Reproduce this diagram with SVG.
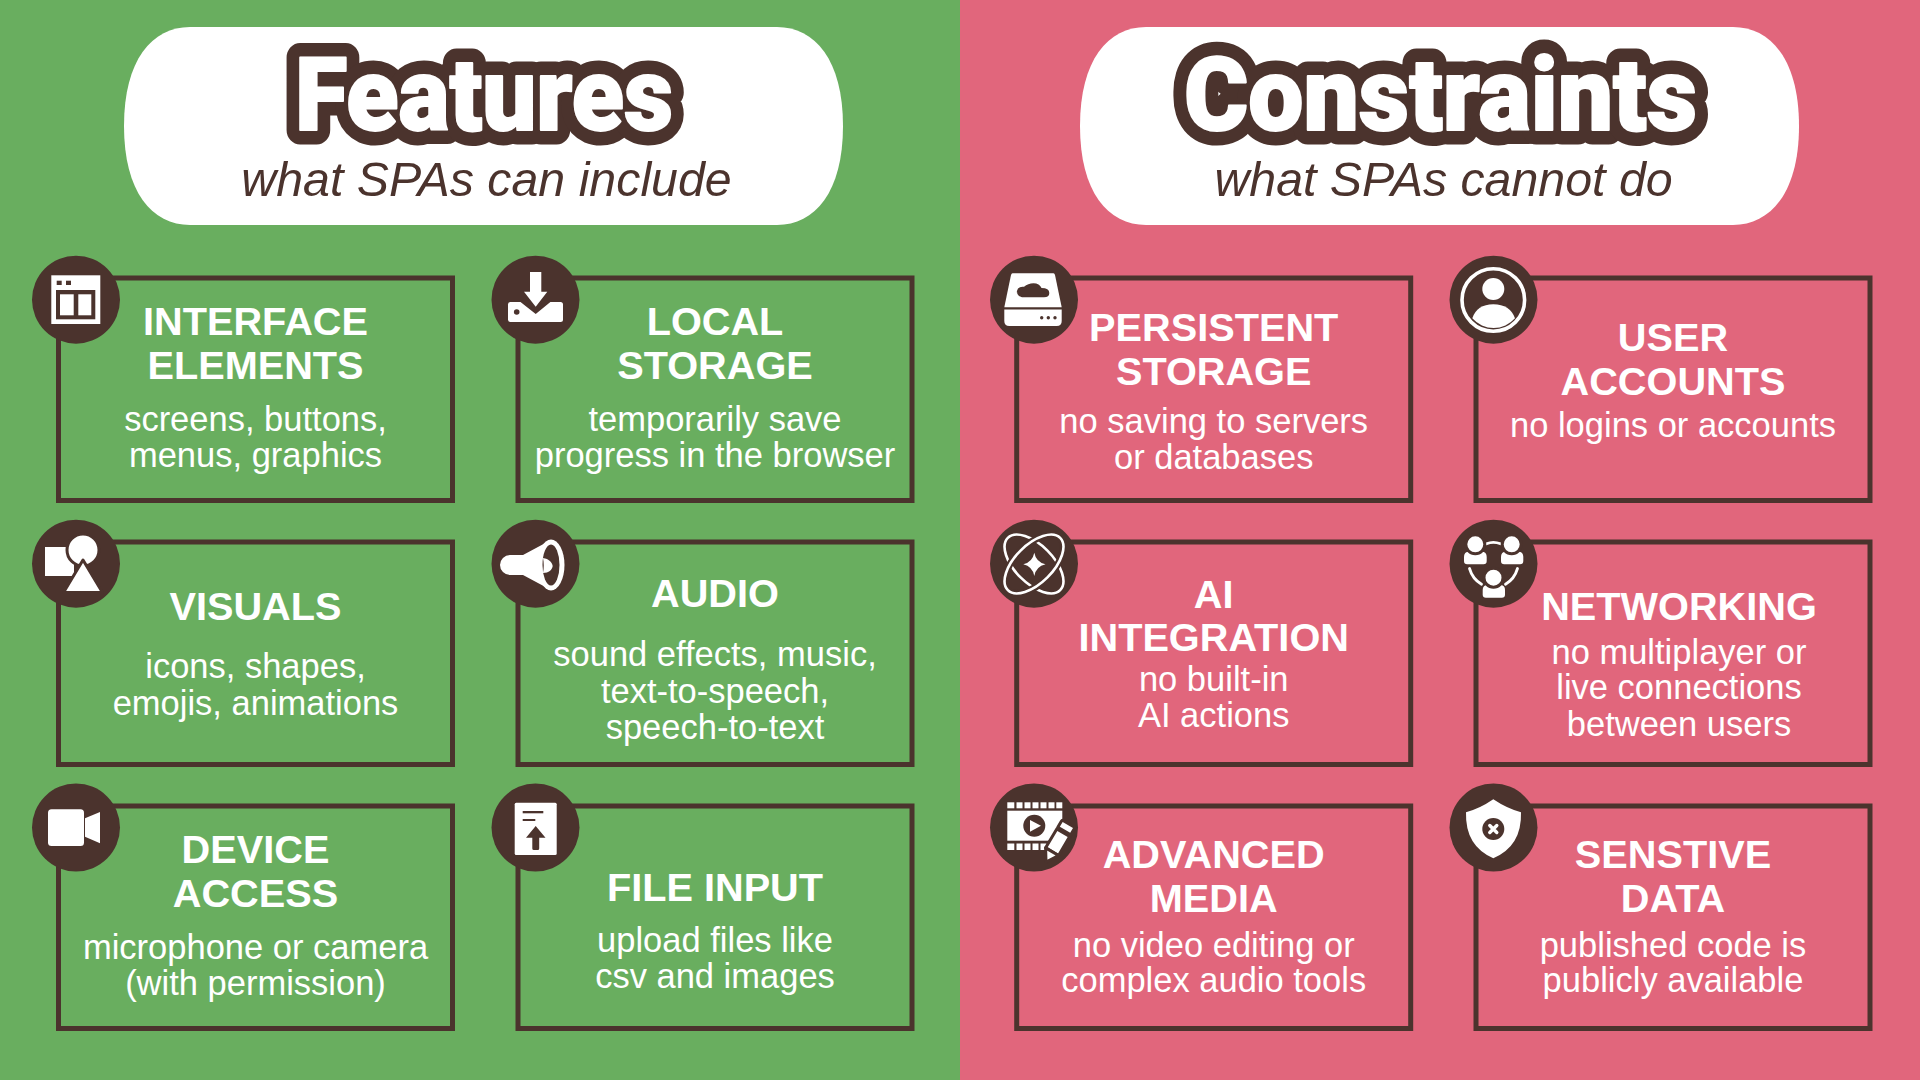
<svg xmlns="http://www.w3.org/2000/svg" width="1920" height="1080" viewBox="0 0 1920 1080">
<style>
.box{fill:none;stroke:#4b332d;stroke-width:5}
.disc{fill:#4b332d}
.w{fill:#fff}
.d{fill:#4b332d}
.wd{fill:#fff;stroke:#4b332d;stroke-width:3;stroke-linejoin:round}
.ws{fill:none;stroke:#fff;stroke-width:2.8;stroke-linecap:round}
text{font-family:"Liberation Sans",Arial,sans-serif;text-anchor:middle}
.t{font-size:39.7px;font-weight:700;fill:#fff}
.b{font-size:34.5px;fill:#fff}
.sub{font-size:48.3px;font-style:italic;fill:#4b332d}
.hb{font-family:Roboto,"Liberation Sans",sans-serif;font-weight:900;font-size:102px;text-anchor:start;fill:#4b332d;stroke:#4b332d;stroke-width:29px;stroke-linejoin:round}
.hf{font-family:Roboto,"Liberation Sans",sans-serif;font-weight:900;font-size:102px;text-anchor:start;fill:#fff;stroke:#fff;stroke-width:2px;stroke-linejoin:round}
</style>
<rect x="0" y="0" width="960" height="1080" fill="#69ae5f"/>
<rect x="960" y="0" width="960" height="1080" fill="#e1667c"/>

<g id="header-features">
<path class="w" d="M190 27H777C815 27 843 60 843 126C843 192 815 225 777 225H190C152 225 124 192 124 126C124 60 152 27 190 27Z"/>
<text class="hb" x="295" y="130" textLength="378" lengthAdjust="spacingAndGlyphs">Features</text>
<text class="hf" x="295" y="130" textLength="378" lengthAdjust="spacingAndGlyphs">Features</text>
<text class="sub" x="486.500" y="196">what SPAs can include</text>
</g>
<g id="header-constraints">
<path class="w" d="M1146 27H1733C1771 27 1799 60 1799 126C1799 192 1771 225 1733 225H1146C1108 225 1080 192 1080 126C1080 60 1108 27 1146 27Z"/>
<text class="hb" x="1184" y="130" textLength="513" lengthAdjust="spacingAndGlyphs">Constraints</text>
<text class="hf" x="1184" y="130" textLength="513" lengthAdjust="spacingAndGlyphs">Constraints</text>
<text class="sub" x="1443.500" y="196">what SPAs cannot do</text>
</g>

<g id="interface-elements">
<rect class="box" x="58.500" y="278" width="394" height="222.500"/>
<circle class="disc" cx="76" cy="299.700" r="44"/>
<rect class="w" x="51.300" y="275.300" width="49" height="48.700"/>
<rect class="d" x="56.700" y="280.700" width="5" height="4.300"/><rect class="d" x="66" y="280.700" width="5" height="4.300"/>
<rect class="d" x="56" y="290" width="39.300" height="29.300"/>
<rect class="w" x="60" y="294.300" width="13.700" height="21"/><rect class="w" x="78.300" y="294.300" width="13" height="21"/>
<text class="t" x="255.500" y="335.100">INTERFACE</text><text class="t" x="255.500" y="379.200">ELEMENTS</text>
<text class="b" x="255.500" y="431.300">screens, buttons,</text><text class="b" x="255.500" y="467">menus, graphics</text>
</g>

<g id="local-storage">
<rect class="box" x="518" y="278" width="394" height="222.500"/>
<circle class="disc" cx="535.500" cy="299.700" r="44"/>
<rect class="w" x="508" y="302" width="55" height="20" rx="2.500"/>
<path class="d" d="M523 302L535.700 312L548 302Z" stroke="#4b332d" stroke-width="3"/>
<path class="w" d="M530 272H541.300V291.700H547.300L535.700 306.700L524 291.700H530Z"/>
<circle class="d" cx="516.700" cy="312" r="2.800"/>
<text class="t" x="715" y="335.100">LOCAL</text><text class="t" x="715" y="379.200">STORAGE</text>
<text class="b" x="715" y="431.300">temporarily save</text><text class="b" x="715" y="467">progress in the browser</text>
</g>

<g id="visuals">
<rect class="box" x="58.500" y="542" width="394" height="222.500"/>
<circle class="disc" cx="76" cy="563.700" r="44"/>
<rect class="w" x="45" y="547" width="29" height="29"/>
<circle class="wd" cx="83" cy="550" r="16"/>
<path class="wd" d="M83 560L102.500 592.500H63.500Z"/>
<text class="t" x="255.500" y="620.200">VISUALS</text>
<text class="b" x="255.500" y="678.300">icons, shapes,</text><text class="b" x="255.500" y="714.500">emojis, animations</text>
</g>

<g id="audio">
<rect class="box" x="518" y="542" width="394" height="222.500"/>
<circle class="disc" cx="535.500" cy="563.700" r="44"/>
<path class="w" d="M510 555H523L551 540V590L523 575H510A10 10 0 0 1 510 555Z"/>
<ellipse class="w" cx="551" cy="565" rx="13.500" ry="25.500"/>
<ellipse class="d" cx="551" cy="565" rx="8.500" ry="20.500"/>
<path class="w" d="M543 558C549 559 552 562 552.700 566C552 570 549 573 543 573C544 568 544 563 543 558Z"/>
<text class="t" x="715" y="607">AUDIO</text>
<text class="b" x="715" y="666.400">sound effects, music,</text><text class="b" x="715" y="702.500">text-to-speech,</text><text class="b" x="715" y="738.500">speech-to-text</text>
</g>

<g id="device-access">
<rect class="box" x="58.500" y="806" width="394" height="222.500"/>
<circle class="disc" cx="76" cy="827.500" r="44"/>
<rect class="w" x="48" y="809.300" width="36" height="36.700" rx="3.500"/>
<path class="w" d="M85 818.300L100 812V843.300L85 836.700Z"/>
<text class="t" x="255.500" y="862.900">DEVICE</text><text class="t" x="255.500" y="907">ACCESS</text>
<text class="b" x="255.500" y="959">microphone or camera</text><text class="b" x="255.500" y="994.500">(with permission)</text>
</g>

<g id="file-input">
<rect class="box" x="518" y="806" width="394" height="222.500"/>
<circle class="disc" cx="535.500" cy="827.500" r="44"/>
<rect class="w" x="514.700" y="802.700" width="42" height="52.300" rx="1.500"/>
<rect class="d" x="522.700" y="811" width="20.600" height="2.300"/><rect class="d" x="522.700" y="819" width="12.600" height="2"/>
<path class="d" d="M535.700 826L545.500 837.700H539.200V848.500Q539.200 850 537.700 850H533.900Q532.300 850 532.300 848.500V837.700H526Z"/>
<text class="t" x="715" y="900.800">FILE INPUT</text>
<text class="b" x="715" y="951.700">upload files like</text><text class="b" x="715" y="988">csv and images</text>
</g>

<g id="persistent-storage">
<rect class="box" x="1016.700" y="278" width="394" height="222.500"/>
<circle class="disc" cx="1034" cy="299.700" r="44"/>
<path class="w" d="M1012.500 273.300H1053.500Q1054.500 273.300 1055 275L1061.700 307.300H1004.300L1011 275Q1011.500 273.300 1012.500 273.300Z"/>
<path class="w" d="M1004.300 309.500H1061.700V321Q1061.700 326 1056.700 326H1009.300Q1004.300 326 1004.300 321Z"/>
<path class="d" d="M1022 297.300A5.500 5.500 0 0 1 1018 288.500Q1020 286.300 1024 286.800Q1028 283.300 1033.500 283.300Q1039.500 283.500 1041.500 288Q1049.300 288 1049.300 293Q1049.300 297.300 1044 297.300Z"/>
<circle class="d" cx="1041.700" cy="317.700" r="1.700"/><circle class="d" cx="1048.300" cy="317.700" r="1.700"/><circle class="d" cx="1055" cy="317.700" r="1.700"/>
<text class="t" x="1213.700" y="341.200">PERSISTENT</text><text class="t" x="1213.700" y="385.300">STORAGE</text>
<text class="b" x="1213.700" y="433.200">no saving to servers</text><text class="b" x="1213.700" y="468.700">or databases</text>
</g>

<g id="user-accounts">
<rect class="box" x="1476" y="278" width="394" height="222.500"/>
<circle class="disc" cx="1493.500" cy="299.700" r="44"/>
<circle cx="1493.300" cy="300" r="31.300" fill="none" stroke="#fff" stroke-width="3.600"/>
<circle class="w" cx="1493.300" cy="289" r="11"/>
<path class="w" d="M1472.300 318.300Q1477 304.300 1493.300 304.300Q1510 304.300 1515 318.300A28.500 28.500 0 0 1 1472.300 318.300Z"/>
<text class="t" x="1673" y="351">USER</text><text class="t" x="1673" y="395.100">ACCOUNTS</text>
<text class="b" x="1673" y="437.400">no logins or accounts</text>
</g>

<g id="ai-integration">
<rect class="box" x="1016.700" y="542" width="394" height="222.500"/>
<circle class="disc" cx="1034" cy="563.700" r="44"/>
<ellipse cx="1034" cy="564" rx="37" ry="19" transform="rotate(45 1034 564)" fill="none" stroke="#fff" stroke-width="2.600"/>
<ellipse cx="1034" cy="564" rx="37" ry="19" transform="rotate(-45 1034 564)" fill="none" stroke="#4b332d" stroke-width="7"/>
<ellipse cx="1034" cy="564" rx="37" ry="19" transform="rotate(-45 1034 564)" fill="none" stroke="#fff" stroke-width="2.600"/>
<path class="w" d="M1034.300 552.700Q1036 562 1045.500 564.300Q1036 566.500 1034.300 576Q1032.500 566.500 1023.300 564.300Q1032.500 562 1034.300 552.700Z"/>
<text class="t" x="1213.700" y="608.200">AI</text><text class="t" x="1213.700" y="651">INTEGRATION</text>
<text class="b" x="1213.700" y="690.600">no built-in</text><text class="b" x="1213.700" y="727">AI actions</text>
</g>

<g id="networking">
<rect class="box" x="1476" y="542" width="394" height="222.500"/>
<circle class="disc" cx="1493.500" cy="563.700" r="44"/>
<path class="ws" d="M1486.500 543.800Q1493.300 540.800 1500.500 543.800"/>
<path class="ws" d="M1469.500 568.500Q1472.500 579 1481.500 584.200"/>
<path class="ws" d="M1517.500 568.500Q1514.500 579 1505.500 584.200"/>
<path class="w" d="M1464 561V557Q1464 551.700 1469 551.700H1481.700Q1486.700 551.700 1486.700 557V561Q1486.700 564.300 1483.500 564.300H1467.200Q1464 564.300 1464 561Z"/>
<circle class="wd" cx="1475.300" cy="544.300" r="9.500"/>
<path class="w" d="M1501 561V557Q1501 551.700 1506 551.700H1518.300Q1523.300 551.700 1523.300 557V561Q1523.300 564.300 1520 564.300H1504.200Q1501 564.300 1501 561Z"/>
<circle class="wd" cx="1511.700" cy="544.300" r="9.500"/>
<path class="w" d="M1482.700 594.500V590Q1482.700 585 1487.700 585H1500Q1505 585 1505 590V594.500Q1505 597.700 1501.800 597.700H1485.900Q1482.700 597.700 1482.700 594.500Z"/>
<circle class="wd" cx="1493.500" cy="577.700" r="9.500"/>
<text class="t" x="1679" y="620.200">NETWORKING</text>
<text class="b" x="1679" y="663.700">no multiplayer or</text><text class="b" x="1679" y="699.200">live connections</text><text class="b" x="1679" y="735.500">between users</text>
</g>

<g id="advanced-media">
<rect class="box" x="1016.700" y="806" width="394" height="222.500"/>
<circle class="disc" cx="1034" cy="827.500" r="44"/>
<g class="w">
<rect x="1007.300" y="802.300" width="7" height="6"/><rect x="1016.500" y="802.300" width="6" height="6"/><rect x="1024.500" y="802.300" width="6" height="6"/><rect x="1032.500" y="802.300" width="6" height="6"/><rect x="1040.500" y="802.300" width="6" height="6"/><rect x="1048.500" y="802.300" width="6" height="6"/><rect x="1056.300" y="802.300" width="6" height="6"/>
<rect x="1007.300" y="810.700" width="55" height="30"/>
<rect x="1007.300" y="843.500" width="7" height="6.500"/><rect x="1016.500" y="843.500" width="6" height="6.500"/><rect x="1024.500" y="843.500" width="6" height="6.500"/><rect x="1032.500" y="843.500" width="6" height="6.500"/><rect x="1040.500" y="843.500" width="6" height="6.500"/>
</g>
<circle class="d" cx="1034.300" cy="825.700" r="11"/>
<path class="w" d="M1030 820L1041 825.700L1030 831.700Z"/>
<g transform="translate(1046 862) rotate(30.500)">
<path class="wd" d="M-7.500 -12H7.500V-34H-7.500Z" />
<path class="wd" d="M0 0L7.500 -12H-7.500Z"/>
<path class="wd" d="M-7.500 -36H7.500V-43Q7.500 -44.500 6 -44.500H-6Q-7.500 -44.500 -7.500 -43Z"/>
</g>
<text class="t" x="1213.700" y="867.800">ADVANCED</text><text class="t" x="1213.700" y="911.900">MEDIA</text>
<text class="b" x="1213.700" y="956.600">no video editing or</text><text class="b" x="1213.700" y="992.100">complex audio tools</text>
</g>

<g id="sensitive-data">
<rect class="box" x="1476" y="806" width="394" height="222.500"/>
<circle class="disc" cx="1493.500" cy="827.500" r="44"/>
<path class="w" d="M1493.300 799.300Q1480 808.500 1466 812.300Q1465 846 1493.300 858.300Q1522 846 1521 812.300Q1507 808.500 1493.300 799.300Z"/>
<circle class="d" cx="1493.300" cy="829" r="11"/>
<path d="M1489.800 825.500L1496.800 832.500M1496.800 825.500L1489.800 832.500" stroke="#fff" stroke-width="3.400" stroke-linecap="round" fill="none"/>
<text class="t" x="1673" y="867.800">SENSTIVE</text><text class="t" x="1673" y="911.900">DATA</text>
<text class="b" x="1673" y="956.600">published code is</text><text class="b" x="1673" y="992.100">publicly available</text>
</g>
</svg>
